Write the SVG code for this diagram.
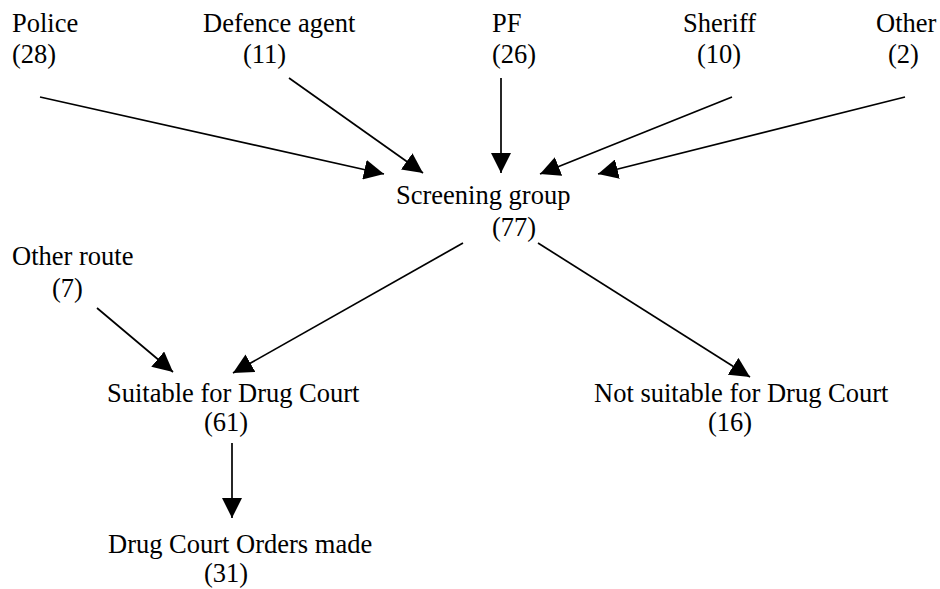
<svg xmlns="http://www.w3.org/2000/svg" width="940" height="589" viewBox="0 0 940 589">
<style>
text{font-family:'Liberation Serif','Times New Roman',serif;font-size:26.5px;fill:#000}
.c{stroke:#000;stroke-width:1.7;fill:none}
</style>
<defs>
<marker id="ah" markerUnits="userSpaceOnUse" markerWidth="20" markerHeight="20" refX="20" refY="10" orient="auto">
<path d="M0,0 L20,10 L0,20 z" fill="#000"/>
</marker>
</defs>
<rect width="940" height="589" fill="#fff"/>
<g id="police"><text x="12" y="32">Police</text><text x="12" y="63">(28)</text></g>
<g id="defence"><text x="203" y="32">Defence agent</text><text x="243" y="63">(11)</text></g>
<g id="pf"><text x="492" y="32">PF</text><text x="492" y="63">(26)</text></g>
<g id="sheriff"><text x="683" y="32">Sheriff</text><text x="697" y="63">(10)</text></g>
<g id="other"><text x="876" y="32">Other</text><text x="888" y="63">(2)</text></g>
<g id="screening"><text x="396" y="204">Screening group</text><text x="492" y="236">(77)</text></g>
<g id="otherroute"><text x="12" y="265">Other route</text><text x="52" y="297">(7)</text></g>
<g id="suitable"><text x="107" y="402">Suitable for Drug Court</text><text x="204" y="431">(61)</text></g>
<g id="notsuitable"><text x="594" y="402">Not suitable for Drug Court</text><text x="708" y="431">(16)</text></g>
<g id="orders"><text x="108" y="553">Drug Court Orders made</text><text x="204" y="582">(31)</text></g>
<g id="connectors">
<line class="c" x1="40" y1="97" x2="384" y2="174" marker-end="url(#ah)"/>
<line class="c" x1="289" y1="78" x2="423" y2="173" marker-end="url(#ah)"/>
<line class="c" x1="501" y1="78" x2="501" y2="173" marker-end="url(#ah)"/>
<line class="c" x1="732" y1="97" x2="540" y2="174" marker-end="url(#ah)"/>
<line class="c" x1="905" y1="97" x2="598" y2="174" marker-end="url(#ah)"/>
<line class="c" x1="463" y1="243" x2="233" y2="373" marker-end="url(#ah)"/>
<line class="c" x1="538" y1="243" x2="750" y2="377" marker-end="url(#ah)"/>
<line class="c" x1="97" y1="308" x2="173" y2="372" marker-end="url(#ah)"/>
<line class="c" x1="232" y1="443" x2="232" y2="518" marker-end="url(#ah)"/>
</g>
</svg>
